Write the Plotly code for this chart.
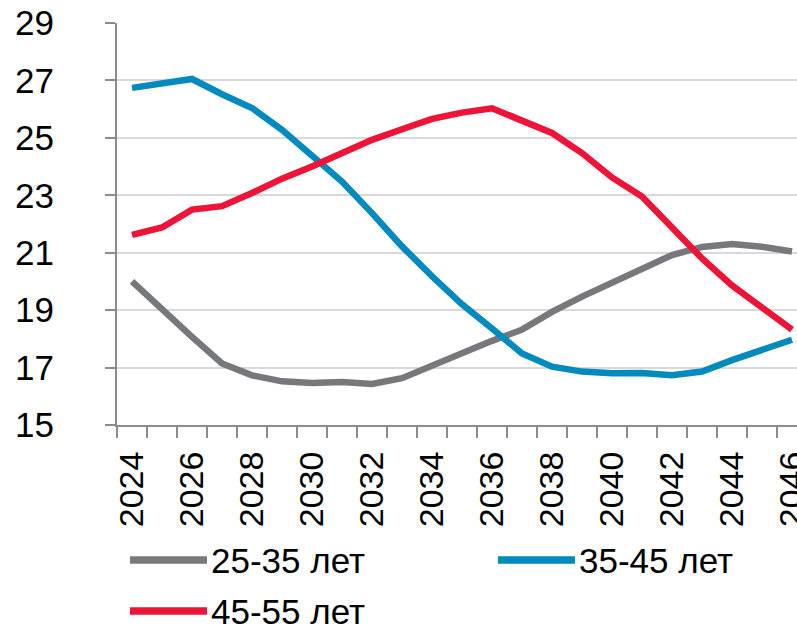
import plotly.graph_objects as go

years = list(range(2024, 2047))
series_names = ["25-35 лет", "35-45 лет", "45-55 лет"]
colors = ["#77787b", "#008abe", "#ee1438"]

v25_35 = [20.0, 19.0, 18.07, 17.14, 16.73, 16.52, 16.46, 16.5, 16.43, 16.63,
          17.08, 17.5, 17.93, 18.32, 18.94, 19.47, 19.97, 20.48, 20.92, 21.2,
          21.3, 21.21, 21.04]
v35_45 = [26.74, 26.91, 27.05, 26.52, 26.04, 25.28, 24.38, 23.48, 22.38, 21.22,
          20.18, 19.2, 18.36, 17.49, 17.03, 16.86, 16.8, 16.81, 16.73, 16.86,
          17.26, 17.61, 17.97]
v45_55 = [21.62, 21.88, 22.5, 22.62, 23.08, 23.58, 24.0, 24.49, 24.93, 25.3,
          25.66, 25.88, 26.03, 25.6, 25.17, 24.47, 23.62, 22.96, 21.9, 20.8,
          19.86, 19.06, 18.32]
series_values = [v25_35, v35_45, v45_55]

y_ticks = [15, 17, 19, 21, 23, 25, 27, 29]
x_label_years = list(range(2024, 2047, 2))

W, H = 797, 628
ML, MR, MT, MB = 117, 0, 23, 203
plot_w = W - ML - MR
plot_h = H - MT - MB
cat_w = 30.0

fig = go.Figure()
for name, vals, col in zip(series_names, series_values, colors):
    fig.add_trace(go.Scatter(x=years, y=vals, mode="lines", name=name,
                             line=dict(color=col, width=6.5),
                             showlegend=False, cliponaxis=False))

x0 = years[0] - 0.5
x1 = x0 + plot_w / cat_w

fig.update_layout(
    width=W, height=H,
    margin=dict(l=ML, r=MR, t=MT, b=MB, pad=0, autoexpand=False),
    paper_bgcolor="white", plot_bgcolor="white",
    font=dict(family="Liberation Sans, Arial, sans-serif", size=35, color="black"),
    xaxis=dict(
        range=[x0, x1], tickmode="array", tickvals=x_label_years,
        ticktext=[str(y) for y in x_label_years], tickangle=-90,
        ticks="", showgrid=False, zeroline=False, automargin=False,
        showline=True, linecolor="#8c8c8c", linewidth=2,
        tickfont=dict(size=34), ticklabelstandoff=11,
        ticklabeloverflow="allow",
        minor=dict(ticks="outside", tick0=x0, dtick=1, ticklen=11,
                   tickcolor="#8c8c8c", tickwidth=2, showgrid=False),
    ),
    yaxis=dict(
        range=[15, 29], tickmode="array", tickvals=y_ticks, automargin=False,
        ticks="outside", ticklen=10, tickcolor="#8c8c8c", tickwidth=2,
        showgrid=True, gridcolor="#d9d9d9", gridwidth=1.6,
        zeroline=False, showline=True, linecolor="#8c8c8c", linewidth=2,
        tickfont=dict(size=35), ticklabelstandoff=44,
    ),
)

# manual legend (two columns, two rows)
def px_to_paper(px, py):
    return (px - ML) / plot_w, (H - MB - py) / plot_h

legend_pos = [(130, 560), (498, 560), (130, 611)]
for (lx, ly), name, col in zip(legend_pos, series_names, colors):
    xa, ya = px_to_paper(lx, ly)
    xb, _ = px_to_paper(lx + 77, ly)
    xt, _ = px_to_paper(lx + 79, ly)
    fig.add_shape(type="line", xref="paper", yref="paper", x0=xa, x1=xb, y0=ya, y1=ya,
                  line=dict(color=col, width=7.5), layer="above")
    fig.add_annotation(xref="paper", yref="paper", x=xt, y=ya, text=name,
                       showarrow=False, xanchor="left", yanchor="middle",
                       font=dict(size=35, color="black"))

fig.write_html("out.html")
